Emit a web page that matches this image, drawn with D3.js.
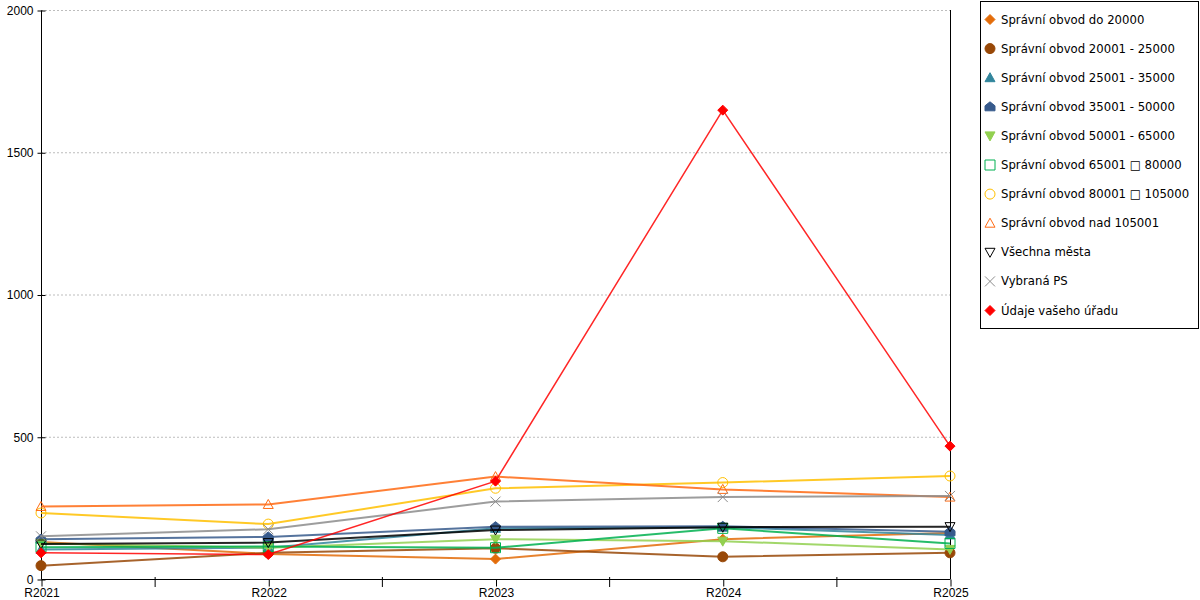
<!DOCTYPE html>
<html>
<head>
<meta charset="utf-8">
<script src="https://cdn.jsdelivr.net/npm/d3@7"></script>
<style>
  body { margin: 0; background: #fff; }
  svg { font-family: "DejaVu Sans", Verdana, sans-serif; font-size: 12px; }
</style>
</head>
<body>
<div id="chart"></div>
<script>
// Data
const years = ['R2021', 'R2022', 'R2023', 'R2024', 'R2025'];
const seriesNames = [
    'Správní obvod do 20000',
    'Správní obvod 20001 - 25000',
    'Správní obvod 25001 - 35000',
    'Správní obvod 35001 - 50000',
    'Správní obvod 50001 - 65000',
    'Správní obvod 65001 \u25A1 80000',
    'Správní obvod 80001 \u25A1 105000',
    'Správní obvod nad 105001',
    'Všechna města',
    'Vybraná PS',
    'Údaje vašeho úřadu'
];
const do20000 = [130, 88, 70, 140, 162];
const s20001 = [47, 92, 108, 78, 92];
const s25001 = [104, 110, 178, 182, 155];
const s35001 = [140, 148, 184, 185, 166];
const s50001 = [125, 110, 140, 133, 104];
const s65001 = [112, 114, 110, 178, 125];
const s80001 = [232, 193, 319, 339, 362];
const nad105001 = [255, 262, 360, 315, 288];
const vsechna = [123, 128, 172, 182, 184];
const vybranaPS = [150, 175, 272, 288, 292];
const udaje = [92, 86, 344, 1648, 467];
const yTicks = [0, 500, 1000, 1500, 2000];

const allValues = [do20000, s20001, s25001, s35001, s50001, s65001, s80001, nad105001, vsechna, vybranaPS, udaje];

// Visual config per series
const COLORS = ['#e36c09', '#984807', '#31859c', '#375a8c', '#92d050', '#00b050',
    '#ffc000', '#ff6a13', '#000000', '#8c8c8c', '#ff0000'];
const SHAPES = ['diamond', 'circle', 'triUp', 'house', 'triDown', 'square',
    'circle', 'triUp', 'triDown', 'cross', 'diamond'];
const FILLED = [true, true, true, true, true, false, false, false, false, false, true];
const LINE_WIDTH = [2, 2, 2, 2, 2, 2, 2, 2, 2, 2, 1.5];

const width = 1200, height = 600;
const plot = { left: 41, right: 950, top: 10, bottom: 579 };

const svg = d3.select('#chart').append('svg')
    .attr('width', width)
    .attr('height', height);

const x = d3.scalePoint().domain(years).range([plot.left, plot.right]);
const y = d3.scaleLinear().domain([0, 2000]).range([plot.bottom, plot.top]);

// Grid lines
svg.append('g')
    .selectAll('line')
    .data(yTicks.filter(d => d > 0))
    .enter().append('line')
    .attr('x1', plot.left).attr('x2', plot.right)
    .attr('y1', d => y(d) + 0.5).attr('y2', d => y(d) + 0.5)
    .attr('stroke', '#bdbdbd')
    .attr('stroke-dasharray', '2,2');

// Y axis
const yAxis = svg.append('g')
    .attr('transform', `translate(${plot.left + 0.5},0.5)`)
    .call(d3.axisLeft(y).tickValues(yTicks).tickSize(4).tickPadding(4).tickFormat(d3.format('d')));
yAxis.selectAll('.tick line').attr('x2', 4).attr('x1', -4);
yAxis.select('.domain').attr('d', `M0,${plot.top}V${plot.bottom}`);
yAxis.selectAll('text').style('font-size', '12px').attr('fill', '#000');

// X axis
const xAxis = svg.append('g')
    .attr('transform', `translate(0.5,${plot.bottom + 0.5})`)
    .call(d3.axisBottom(x).tickSize(7).tickPadding(2));
xAxis.select('.domain').attr('d', `M${plot.left},0H${plot.right}`);
xAxis.selectAll('text').style('font-size', '12px').attr('fill', '#000');

// Minor ticks between the years
const step = x.step();
svg.append('g')
    .selectAll('line')
    .data(years.slice(1))
    .enter().append('line')
    .attr('x1', d => x(d) - step / 2 + 0.5).attr('x2', d => x(d) - step / 2 + 0.5)
    .attr('y1', plot.bottom - 2).attr('y2', plot.bottom + 8)
    .attr('stroke', '#000');

// Right border line
svg.append('line')
    .attr('x1', plot.right + 0.5).attr('x2', plot.right + 0.5)
    .attr('y1', plot.top).attr('y2', plot.bottom)
    .attr('stroke', '#000');

function shapePath(shape, r) {
    switch (shape) {
        case 'diamond': return `M0,${-r}L${r},0L0,${r}L${-r},0Z`;
        case 'circle': return `M${r},0A${r},${r} 0 1,1 ${-r},0A${r},${r} 0 1,1 ${r},0Z`;
        case 'triUp': return `M0,${-r}L${r},${r * 0.8}L${-r},${r * 0.8}Z`;
        case 'triDown': return `M${-r},${-r * 0.8}L${r},${-r * 0.8}L0,${r}Z`;
        case 'house': return `M0,${-r}L${r},${-r * 0.2}L${r},${r * 0.8}L${-r},${r * 0.8}L${-r},${-r * 0.2}Z`;
        case 'square': return `M${-r},${-r}H${r}V${r}H${-r}Z`;
        case 'cross': return `M${-r},${-r}L${r},${r}M${r},${-r}L${-r},${r}`;
    }
}

function drawMarker(g, i, cx, cy) {
    const r = 5;
    g.append('path')
        .attr('d', shapePath(SHAPES[i], r))
        .attr('transform', `translate(${cx},${cy})`)
        .attr('fill', FILLED[i] ? COLORS[i] : 'none')
        .attr('stroke', COLORS[i])
        .attr('stroke-width', 1);
}

const line = d3.line()
    .x((d, j) => x(years[j]))
    .y(d => y(d));

// Series: line then markers, in legend order
allValues.forEach((vals, i) => {
    const g = svg.append('g');
    g.append('path')
        .datum(vals)
        .attr('d', line)
        .attr('fill', 'none')
        .attr('stroke', COLORS[i])
        .attr('stroke-width', LINE_WIDTH[i])
        .attr('stroke-opacity', 0.85);
    vals.forEach((v, j) => drawMarker(g, i, x(years[j]), y(v)));
});

// Legend
const legend = svg.append('g');
legend.append('rect')
    .attr('x', 980.5).attr('y', 1.5)
    .attr('width', 218).attr('height', 327)
    .attr('fill', '#fff')
    .attr('stroke', '#000');

seriesNames.forEach((name, i) => {
    const cy = 19.5 + i * 29.1;
    drawMarker(legend, i, 990, cy);
    legend.append('text')
        .attr('x', 1001).attr('y', cy)
        .attr('dy', '0.35em')
        .attr('fill', '#000')
        .style('font-size', '11.7px')
        .text(name);
});
</script>
</body>
</html>
